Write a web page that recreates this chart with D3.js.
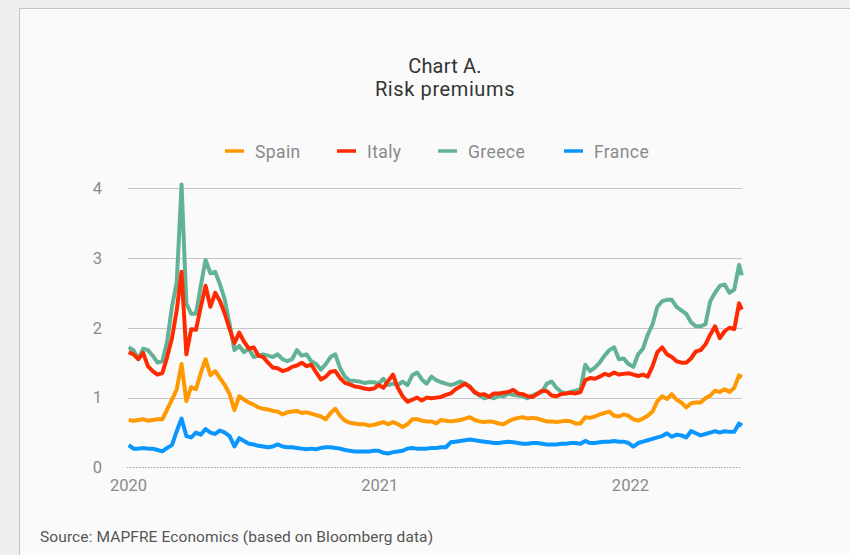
<!DOCTYPE html>
<html><head><meta charset="utf-8">
<script src="https://cdn.jsdelivr.net/npm/d3@7"></script>
<style>
html,body{margin:0;padding:0;background:#efefef;}
svg{display:block;}
</style></head>
<body>
<svg id="chart" width="850" height="555"></svg>
<script>
// ---- data (weekly readings from 2020-01-02, final point 2022-06-13) ----
const firstDate = new Date(2020, 0, 2);
const lastDate = new Date(2022, 5, 13);
const seriesNames = ["Spain", "Italy", "Greece", "France"];
const seriesColors = ["#ff9900", "#ff2a00", "#62b295", "#0a96ff"];
const yTicks = [0, 1, 2, 3, 4];
const xTickYears = [2020, 2021, 2022];

const spain = [
0.68,0.67,0.68,0.69,0.67,0.68,0.69,0.69,0.83,0.97,
1.12,1.48,0.95,1.15,1.12,1.35,1.55,1.32,1.38,1.28,
1.18,1.05,0.82,1.02,0.97,0.93,0.90,0.86,0.84,0.83,
0.81,0.80,0.76,0.79,0.80,0.81,0.78,0.79,0.77,0.75,
0.73,0.69,0.78,0.84,0.74,0.67,0.64,0.63,0.62,0.62,
0.60,0.61,0.63,0.65,0.62,0.65,0.62,0.58,0.62,0.69,
0.69,0.67,0.66,0.66,0.63,0.68,0.67,0.66,0.67,0.68,
0.70,0.72,0.68,0.66,0.65,0.66,0.65,0.63,0.62,0.66,
0.69,0.71,0.72,0.70,0.71,0.70,0.68,0.66,0.66,0.65,
0.66,0.67,0.66,0.63,0.63,0.72,0.71,0.73,0.76,0.78,
0.80,0.74,0.73,0.76,0.74,0.69,0.67,0.70,0.74,0.80,
0.95,1.02,0.98,1.05,0.97,0.93,0.86,0.92,0.93,0.93,
0.99,1.03,1.10,1.08,1.12,1.08,1.14,1.32,
1.29];

const italy = [
1.65,1.62,1.55,1.64,1.45,1.38,1.33,1.35,1.58,1.85,
2.25,2.80,1.62,1.98,1.97,2.30,2.60,2.30,2.50,2.38,
2.20,1.98,1.78,1.93,1.80,1.70,1.72,1.60,1.58,1.50,
1.43,1.42,1.38,1.40,1.44,1.46,1.50,1.45,1.47,1.36,
1.26,1.30,1.37,1.38,1.28,1.21,1.19,1.16,1.15,1.13,
1.12,1.13,1.18,1.14,1.24,1.33,1.14,1.02,0.94,0.97,
1.00,0.96,1.00,0.99,1.00,1.01,1.04,1.06,1.12,1.16,
1.20,1.15,1.08,1.04,1.05,1.01,1.06,1.06,1.07,1.08,
1.11,1.06,1.05,1.02,1.01,1.05,1.10,1.09,1.03,1.02,
1.05,1.06,1.07,1.06,1.08,1.25,1.28,1.27,1.30,1.34,
1.32,1.36,1.33,1.34,1.35,1.33,1.31,1.33,1.30,1.45,
1.65,1.72,1.62,1.58,1.52,1.50,1.50,1.56,1.66,1.68,
1.76,1.90,2.02,1.85,1.95,2.00,1.98,2.35,
2.26];

const greece = [
1.72,1.68,1.55,1.70,1.68,1.60,1.50,1.52,1.80,2.30,
2.65,4.05,2.35,2.20,2.20,2.60,2.97,2.78,2.80,2.62,
2.40,2.05,1.68,1.74,1.65,1.70,1.58,1.60,1.62,1.60,
1.58,1.62,1.55,1.52,1.55,1.68,1.60,1.62,1.52,1.48,
1.40,1.48,1.58,1.62,1.42,1.30,1.24,1.24,1.23,1.21,
1.22,1.22,1.20,1.27,1.18,1.20,1.18,1.23,1.18,1.32,
1.36,1.26,1.20,1.30,1.25,1.22,1.20,1.18,1.20,1.23,
1.20,1.16,1.07,1.03,0.99,1.01,0.99,1.03,1.02,1.06,
1.04,1.03,1.02,0.99,1.03,1.06,1.08,1.20,1.23,1.14,
1.08,1.06,1.08,1.10,1.12,1.47,1.38,1.43,1.50,1.60,
1.68,1.72,1.55,1.56,1.48,1.44,1.62,1.70,1.90,2.05,
2.30,2.38,2.40,2.40,2.30,2.25,2.20,2.08,2.02,2.02,
2.05,2.38,2.50,2.60,2.62,2.50,2.55,2.90,
2.75];

const france = [
0.32,0.27,0.27,0.28,0.27,0.27,0.25,0.23,0.28,0.32,
0.52,0.70,0.45,0.43,0.50,0.47,0.55,0.50,0.48,0.53,
0.50,0.45,0.30,0.42,0.38,0.34,0.33,0.31,0.30,0.29,
0.30,0.33,0.30,0.29,0.29,0.28,0.27,0.26,0.27,0.26,
0.28,0.29,0.29,0.28,0.27,0.25,0.24,0.23,0.23,0.23,
0.23,0.24,0.24,0.21,0.20,0.22,0.23,0.24,0.27,0.28,
0.27,0.27,0.27,0.28,0.28,0.29,0.29,0.36,0.37,0.38,
0.39,0.40,0.39,0.38,0.37,0.36,0.35,0.35,0.36,0.37,
0.36,0.35,0.34,0.34,0.35,0.35,0.34,0.33,0.33,0.33,
0.34,0.34,0.35,0.35,0.34,0.38,0.35,0.35,0.36,0.37,
0.37,0.38,0.37,0.37,0.35,0.30,0.35,0.37,0.39,0.41,
0.43,0.45,0.49,0.44,0.47,0.46,0.43,0.52,0.49,0.46,
0.48,0.50,0.52,0.50,0.52,0.51,0.51,0.63,
0.60];

const seriesValues = [spain, italy, greece, france];

// dates: weekly steps, plus the final observation
const dates = d3.range(spain.length - 1).map(i => d3.timeDay.offset(firstDate, 7 * i));
dates.push(lastDate);

// ---- drawing ----
const svg = d3.select("#chart");
const FONT = "Roboto, 'DejaVu Sans', sans-serif";

// panel
svg.append("rect").attr("x", 19.5).attr("y", 8.5).attr("width", 840).attr("height", 560)
  .attr("fill", "#fafafa").attr("stroke", "#c4c4c4").attr("stroke-width", 1);

// title
svg.append("text").attr("x", 445).attr("y", 73).attr("text-anchor", "middle")
  .attr("font-family", FONT).attr("font-size", 20).attr("fill", "#333")
  .attr("letter-spacing", 0.2).text("Chart A.");
svg.append("text").attr("x", 445).attr("y", 95.5).attr("text-anchor", "middle")
  .attr("font-family", FONT).attr("font-size", 20).attr("fill", "#333")
  .attr("letter-spacing", 0.6).text("Risk premiums");

// legend
const legendX = [225, 337, 438, 564];
seriesNames.forEach((name, i) => {
  const g = svg.append("g").attr("transform", `translate(${legendX[i]},151)`);
  g.append("line").attr("x1", 0).attr("x2", 19).attr("y1", 0).attr("y2", 0)
    .attr("stroke", seriesColors[i]).attr("stroke-width", 3.5);
  g.append("text").attr("x", 30).attr("y", 6.5).attr("font-family", FONT)
    .attr("font-size", 17.5).attr("fill", "#8a8a8a").attr("letter-spacing", 0.4).text(name);
});

// scales
const x = d3.scaleTime().domain([new Date(2020, 0, 1), new Date(2022, 5, 14)]).range([128, 742.5]);
const y = d3.scaleLinear().domain([0, 4]).range([467.5, 188]);

// gridlines
svg.append("g").selectAll("line").data(yTicks.filter(d => d > 0)).join("line")
  .attr("x1", 128).attr("x2", 742).attr("y1", d => Math.round(y(d)) + 0.5).attr("y2", d => Math.round(y(d)) + 0.5)
  .attr("stroke", "#c6c6c6").attr("stroke-width", 1);
svg.append("line").attr("x1", 127).attr("x2", 740).attr("y1", y(0)).attr("y2", y(0))
  .attr("stroke", "#9a9a9a").attr("stroke-width", 1).attr("stroke-dasharray", "1.5,1.5");

// y axis labels
const yAxis = d3.axisLeft(y).tickValues(yTicks).tickSize(0).tickPadding(0).tickFormat(d3.format("d"));
const yg = svg.append("g").attr("transform", "translate(102,0)").call(yAxis);
yg.select(".domain").remove();
yg.selectAll("text").attr("font-family", FONT).attr("font-size", 16.5).attr("fill", "#8a8a8a");

// x axis labels
const xAxis = d3.axisBottom(x).tickValues(xTickYears.map(yr => new Date(yr, 0, 1)))
  .tickSize(0).tickPadding(0).tickFormat(d3.timeFormat("%Y"));
const xg = svg.append("g").attr("transform", "translate(0,479)").call(xAxis);
xg.select(".domain").remove();
xg.selectAll("text").attr("font-family", FONT).attr("font-size", 16.5).attr("fill", "#8a8a8a");

// lines (France, Greece, Italy, Spain order so Italy sits over Greece)
const line = d3.line().x((d, i) => x(dates[i])).y(d => y(d)).curve(d3.curveLinear);
[3, 2, 1, 0].forEach(k => {
  svg.append("path").datum(seriesValues[k]).attr("d", line)
    .attr("fill", "none").attr("stroke", seriesColors[k]).attr("stroke-width", 4)
    .attr("stroke-linejoin", "round").attr("stroke-linecap", "butt");
});

// source
svg.append("text").attr("x", 40).attr("y", 542).attr("font-family", FONT)
  .attr("font-size", 15.5).attr("fill", "#555").attr("letter-spacing", 0.1)
  .text("Source: MAPFRE Economics (based on Bloomberg data)");
</script>
</body></html>
